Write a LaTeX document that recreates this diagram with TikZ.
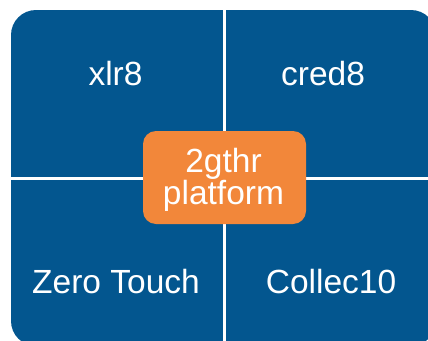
\documentclass[tikz,border=0pt]{standalone}
\usepackage{fontspec}
\setmainfont{Liberation Sans}
\definecolor{tileblue}{HTML}{03568F}
\definecolor{hub}{HTML}{F2873A}
\begin{document}
\begin{tikzpicture}[x=1pt,y=-1pt,
  label/.style={text=white,font=\fontsize{33.5}{36}\selectfont,anchor=base},
  hubtext/.style={text=white,font=\fontsize{33.5}{36}\selectfont,anchor=base}]
\useasboundingbox (0,0) rectangle (428,340);
\begin{scope}
\clip (0,0) rectangle (428,340);
\fill[tileblue,rounded corners=25pt] (11,10) rectangle (436,346);
\draw[white,line width=3pt] (224,10) -- (224,346);
\draw[white,line width=3pt] (11,178) -- (436,178);
\end{scope}
\node[label] (a) at (115.5,85) {xlr8};
\node[label] (b) at (323,85) {cred8};
\node[label] (c) at (116,293) {Zero Touch};
\node[label] (d) at (331,293) {Collec10};
\fill[hub,rounded corners=13pt] (143,131) rectangle (306,224);
\node[hubtext] (h1) at (223.5,172) {2gthr};
\node[hubtext] (h2) at (223.5,204) {platform};
\end{tikzpicture}
\end{document}
